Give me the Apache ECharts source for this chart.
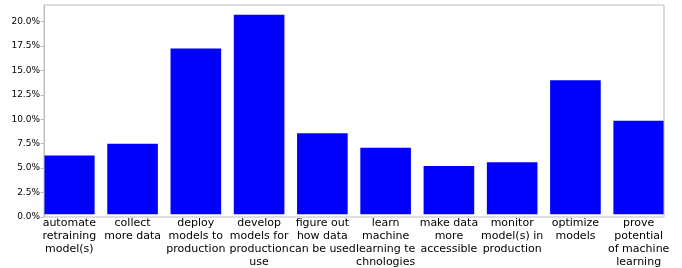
<!DOCTYPE html>
<html>
<head>
<meta charset="utf-8">
<script src="https://cdn.jsdelivr.net/npm/echarts@6/dist/echarts.min.js"></script>
<style>
    html, body { margin: 0; padding: 0; background: #fff; }
    #chart { width: 682px; height: 268px; }
</style>
</head>
<body>
<div id="chart"></div>
<script>
// 类目（x 轴标签，按原图换行）
const categories = [
    'automate\nretraining\nmodel(s)',
    'collect\nmore data',
    'deploy\nmodels to\nproduction',
    'develop\nmodels for\nproduction\nuse',
    'figure out\nhow data\ncan be used',
    'learn\nmachine\nlearning te\nchnologies',
    'make data\nmore\naccessible',
    'monitor\nmodel(s) in\nproduction',
    'optimize\nmodels',
    'prove\npotential\nof machine\nlearning'
]
// 百分比数值
const shares = [6.1, 7.3, 17.2, 20.7, 8.4, 6.9, 5.0, 5.4, 13.9, 9.7]
// y 轴刻度
const yTicks = [0, 2.5, 5, 7.5, 10, 12.5, 15, 17.5, 20]

const yMax = 21.7
// 外框区域（与原图坐标框一致）
const frame = { left: 44, right: 18, top: 5, bottom: 51 }
// 柱子两端贴边：数据网格比外框各宽出 0.1 个类目宽
const pitch = (682 - frame.left - frame.right) / 9.8
const pad = pitch * 0.1

const chart = echarts.init(document.getElementById('chart'))
const option = {
    animation: false,
    textStyle: { fontFamily: 'DejaVu Sans' },
    grid: [
        {
            left: frame.left - pad,
            right: frame.right - pad,
            top: frame.top,
            bottom: frame.bottom
        },
        {
            left: frame.left,
            right: frame.right,
            top: frame.top,
            bottom: frame.bottom,
            show: true,
            borderColor: '#bdbdbd',
            borderWidth: 1,
            z: 5
        }
    ],
    xAxis: [
        {
            type: 'category',
            gridIndex: 0,
            data: categories,
            axisLine: { show: false },
            axisTick: { show: false },
            axisLabel: {
                interval: 0,
                color: '#000',
                fontSize: 11,
                lineHeight: 12.7,
                margin: 3
            }
        },
        { type: 'value', gridIndex: 1, show: false }
    ],
    yAxis: [
        { type: 'value', gridIndex: 0, min: 0, max: yMax, show: false },
        {
            type: 'value',
            gridIndex: 1,
            min: 0,
            max: yMax,
            splitLine: { show: false },
            axisLine: { show: true, lineStyle: { color: '#bdbdbd' } },
            axisTick: {
                show: true,
                length: 3.5,
                lineStyle: { color: '#bdbdbd' },
                customValues: yTicks
            },
            axisLabel: {
                color: '#000',
                fontSize: 9,
                margin: 4,
                customValues: yTicks,
                formatter: v => v.toFixed(1) + '%'
            }
        }
    ],
    series: [{
        type: 'bar',
        xAxisIndex: 0,
        yAxisIndex: 0,
        data: shares,
        barCategoryGap: '20%',
        itemStyle: { color: '#0000ff' }
    }]
}
chart.setOption(option)
</script>
</body>
</html>
